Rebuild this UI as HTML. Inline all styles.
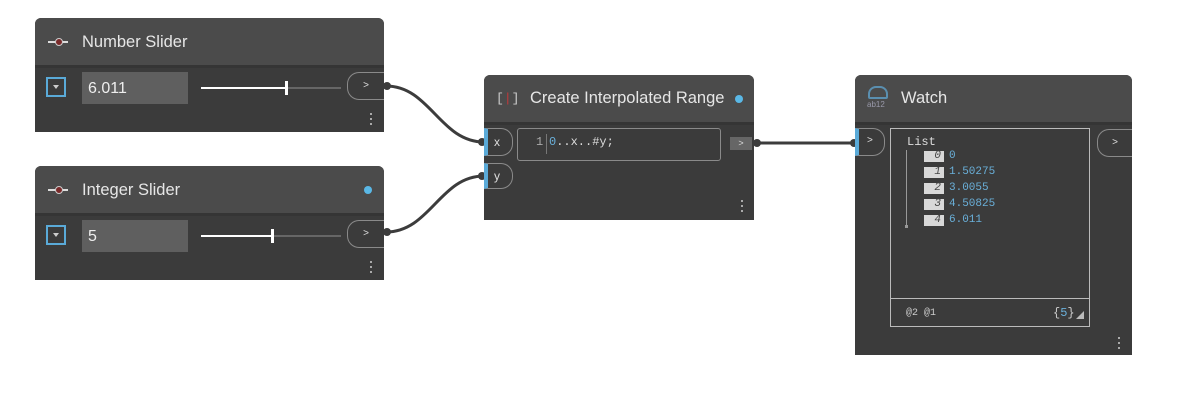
<!DOCTYPE html>
<html><head><meta charset="utf-8"><style>
*{margin:0;padding:0;box-sizing:border-box}
body{width:1178px;height:402px;background:#fff;position:relative;overflow:hidden;font-family:"Liberation Sans","DejaVu Sans",sans-serif}
.a{position:absolute}
.node{position:absolute;background:#3b3b3b;border-radius:6px 6px 0 0;overflow:visible}
.hdr{position:absolute;left:0;top:0;right:0;background:#4b4b4b;border-radius:6px 6px 0 0;border-bottom:3px solid #353535}
.title{position:absolute;color:#e6e6e6;font-size:16.5px}
.mono{font-family:"Liberation Mono","DejaVu Sans Mono",monospace}
.dots{position:absolute;width:3px}
.dots i{display:block;width:2px;height:2px;background:#aaa;margin-bottom:3px}
.port{position:absolute;border:1px solid #8a8a8a;border-radius:12px 0 0 12px;border-right:none;color:#ddd;font-size:10px;text-align:center}
.inport{position:absolute;background:#3b3b3b;border:1px solid #8a8a8a;border-left:4px solid #5aaad8;border-radius:0 12px 12px 0;color:#ddd;font-size:12px}
.dd{position:absolute;width:20px;height:20px;border:2px solid #5aaad8}
.dd:after{content:"";position:absolute;left:5px;top:6px;border-left:3px solid transparent;border-right:3px solid transparent;border-top:4px solid #ccc}
.val{position:absolute;background:#5f5f5f;color:#eee;font-size:16px;padding:8px 6px}
.track{position:absolute;height:2px;background:#666}
.dot{position:absolute;width:8px;height:8px;border-radius:50%;background:#5ab8e6}
.idx{position:absolute;left:924px;width:20px;height:11px;background:#d8d8d8;color:#444;font-size:11px;font-style:italic;text-align:right;padding-right:3px;line-height:11px}
.v{position:absolute;left:949px;color:#6ab0da;font-size:11px;line-height:11px}
</style></head><body>
<svg class="a" style="left:0;top:0" width="1178" height="402">
<g fill="none" stroke="#3c3c3c" stroke-width="3">
<path d="M386 86 C430 86 440 142 484 142"/>
<path d="M386 232 C430 232 440 176 484 176"/>
<path d="M757 143 L855 143"/>
</g>
<g fill="#3c3c3c">
<circle cx="387" cy="86" r="4"/><circle cx="387" cy="232" r="4"/>
<circle cx="482" cy="142" r="4"/><circle cx="482" cy="176" r="4"/>
<circle cx="757" cy="143" r="4"/><circle cx="854" cy="143" r="4"/>
</g>
</svg>

<!-- Number Slider -->
<div class="node" style="left:35px;top:18px;width:349px;height:114px">
<div class="hdr" style="height:50px"></div>
<div class="a" style="left:13px;top:23px;width:20px;height:2px;background:#ddd"></div>
<div class="a" style="left:20px;top:20px;width:8px;height:8px;border-radius:50%;background:#7a2a2a;border:1px solid #ccc"></div>
<div class="title" style="left:47px;top:15px">Number Slider</div>
<div class="dd" style="left:11px;top:59px"></div>
<div class="val" style="left:47px;top:54px;width:106px;height:32px">6.011</div>
<div class="track" style="left:166px;top:69px;width:140px"></div>
<div class="a" style="left:166px;top:69px;width:86px;height:2px;background:#fff"></div>
<div class="a" style="left:250px;top:63px;width:3px;height:14px;background:#fff"></div>
<div class="port" style="left:312px;top:54px;width:37px;height:28px;line-height:26px">&gt;</div>
<div class="dots" style="left:335px;top:95px"><i></i><i></i><i></i></div>
</div>

<!-- Integer Slider -->
<div class="node" style="left:35px;top:166px;width:349px;height:114px">
<div class="hdr" style="height:50px"></div>
<div class="a" style="left:13px;top:23px;width:20px;height:2px;background:#ddd"></div>
<div class="a" style="left:20px;top:20px;width:8px;height:8px;border-radius:50%;background:#7a2a2a;border:1px solid #ccc"></div>
<div class="title" style="left:47px;top:15px">Integer Slider</div>
<div class="dot" style="left:329px;top:20px"></div>
<div class="dd" style="left:11px;top:59px"></div>
<div class="val" style="left:47px;top:54px;width:106px;height:32px">5</div>
<div class="track" style="left:166px;top:69px;width:140px"></div>
<div class="a" style="left:166px;top:69px;width:70px;height:2px;background:#fff"></div>
<div class="a" style="left:236px;top:63px;width:3px;height:14px;background:#fff"></div>
<div class="port" style="left:312px;top:54px;width:37px;height:28px;line-height:26px">&gt;</div>
<div class="dots" style="left:335px;top:95px"><i></i><i></i><i></i></div>
</div>

<!-- Create Interpolated Range -->
<div class="node" style="left:484px;top:75px;width:270px;height:145px">
<div class="hdr" style="height:50px"></div>
<div class="title mono" style="left:12px;top:16px;font-size:13px;color:#ccc">[<span style="color:#c0393b">|</span>]</div>
<div class="title" style="left:46px;top:14px">Create Interpolated Range</div>
<div class="dot" style="left:251px;top:20px"></div>
<div class="inport" style="left:0;top:53px;width:29px;height:28px;line-height:26px;padding-left:6px">x</div>
<div class="inport" style="left:0;top:88px;width:29px;height:26px;line-height:24px;padding-left:6px">y</div>
<div class="a" style="left:33px;top:53px;width:204px;height:33px;border:1px solid #8a8a8a;border-radius:3px"></div>
<div class="a mono" style="left:52px;top:60px;font-size:12px;color:#aaa">1</div>
<div class="a" style="left:62px;top:59px;width:1px;height:20px;background:#777"></div>
<div class="a mono" style="left:65px;top:60px;font-size:12px;color:#ddd"><span style="color:#6ab0da">0</span>..x..#y;</div>
<div class="a" style="left:246px;top:62px;width:22px;height:13px;background:#666;color:#ddd;font-size:9px;text-align:center;line-height:13px">&gt;</div>
<div class="dots" style="left:257px;top:125px"><i></i><i></i><i></i></div>
</div>

<!-- Watch -->
<div class="node" style="left:855px;top:75px;width:277px;height:280px">
<div class="hdr" style="height:50px"></div>
<div class="a" style="left:13px;top:11px;width:20px;height:13px;border:2px solid #5a8fb0;border-radius:8px 8px 2px 2px"></div>
<div class="a" style="left:12px;top:25px;font-size:8px;color:#99a">ab12</div>
<div class="title" style="left:46px;top:14px">Watch</div>
<div class="inport" style="left:0;top:53px;width:30px;height:28px;line-height:24px;padding-left:8px;font-size:10px">&gt;</div>
<div class="port" style="left:242px;top:54px;width:35px;height:28px;line-height:26px">&gt;</div>
<div class="dots" style="left:263px;top:262px"><i></i><i></i><i></i></div>
</div>
<div class="a" style="left:890px;top:128px;width:200px;height:199px;border:1px solid #bbb"></div>
<div class="a" style="left:890px;top:298px;width:200px;height:1px;background:#bbb"></div>
<div class="a mono" style="left:907px;top:135px;font-size:12px;color:#ddd">List</div>
<div class="a" style="left:906px;top:150px;width:1px;height:76px;background:#999"></div>
<div class="a" style="left:905px;top:225px;width:3px;height:3px;background:#999"></div>
<div class="idx mono" style="top:151px">0</div><div class="v mono" style="top:151px">0</div>
<div class="idx mono" style="top:167px">1</div><div class="v mono" style="top:167px">1.50275</div>
<div class="idx mono" style="top:183px">2</div><div class="v mono" style="top:183px">3.0055</div>
<div class="idx mono" style="top:199px">3</div><div class="v mono" style="top:199px">4.50825</div>
<div class="idx mono" style="top:215px">4</div><div class="v mono" style="top:215px">6.011</div>
<div class="a mono" style="left:906px;top:308px;font-size:10px;color:#ccc">@2 @1</div>
<div class="a mono" style="left:1053px;top:306px;font-size:12px;color:#ccc">{<span style="color:#6ab0da">5</span>}</div>
<div class="a" style="left:1076px;top:311px;width:0;height:0;border-left:8px solid transparent;border-bottom:8px solid #bbb"></div>
</body></html>
